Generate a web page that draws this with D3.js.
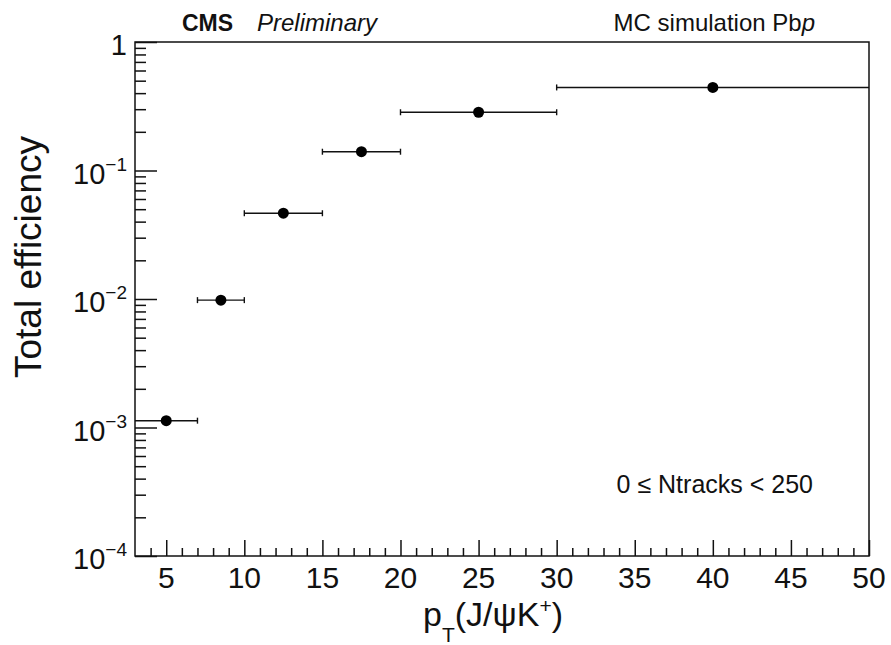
<!DOCTYPE html>
<html>
<head>
<meta charset="utf-8">
<script src="https://cdn.jsdelivr.net/npm/d3@7"></script>
<style>
  body { margin: 0; background: #fff; }
  svg { display: block; font-family: "Liberation Sans", Arial, Helvetica, sans-serif; }
</style>
</head>
<body>
<svg id="chart" width="891" height="645"></svg>
<script>
// bins in pT and the efficiency
const binLow = [3, 7, 10, 15, 20, 30];
const binHigh = [7, 10, 15, 20, 30, 50];
const ptCenter = [5, 8.5, 12.5, 17.5, 25, 40];
const efficiency = [1.13e-3, 9.8e-3, 0.0465, 0.14, 0.284, 0.443];

const xTicks = [5, 10, 15, 20, 25, 30, 35, 40, 45, 50];
const yExponents = [-4, -3, -2, -1, 0];

const svg = d3.select('#chart');
const plotL = 135, plotR = 869, plotT = 42, plotB = 556;
const ink = '#111';

const x = d3.scaleLinear().domain([3, 50]).range([plotL, plotR]);
const y = d3.scaleLog().domain([1e-4, 1]).range([plotB, plotT]);

// frame
svg.append('rect')
  .attr('x', plotL).attr('y', plotT)
  .attr('width', plotR - plotL).attr('height', plotB - plotT)
  .attr('fill', 'none').attr('stroke', ink).attr('stroke-width', 1.5);

// x axis ticks
const xMinor = d3.range(4, 50).filter(v => v % 5 !== 0);
svg.append('g')
  .attr('transform', `translate(0,${plotB})`)
  .call(d3.axisTop(x).tickValues(xMinor).tickSize(8).tickFormat(''))
  .call(g => g.select('.domain').remove());
svg.append('g')
  .attr('transform', `translate(0,${plotB})`)
  .call(d3.axisTop(x).tickValues(xTicks).tickSize(16).tickFormat(''))
  .call(g => g.select('.domain').remove());
svg.selectAll('.tick line').attr('stroke', ink).attr('stroke-width', 1.5);

svg.append('g').selectAll('text')
  .data(xTicks)
  .enter().append('text')
  .attr('x', d => x(d))
  .attr('y', 588)
  .attr('text-anchor', 'middle')
  .attr('font-size', 30)
  .attr('fill', ink)
  .text(d => d);

// y axis ticks
const yMinor = [];
yExponents.slice(0, -1).forEach(e => {
  for (let k = 2; k <= 9; k++) yMinor.push(k * Math.pow(10, e));
});
const yMajor = yExponents.map(e => Math.pow(10, e));
svg.append('g')
  .attr('transform', `translate(${plotL},0)`)
  .call(d3.axisRight(y).tickValues(yMinor).tickSize(11).tickFormat(''))
  .call(g => g.select('.domain').remove())
  .selectAll('line').attr('stroke', ink).attr('stroke-width', 1.5);
svg.append('g')
  .attr('transform', `translate(${plotL},0)`)
  .call(d3.axisRight(y).tickValues(yMajor).tickSize(22).tickFormat(''))
  .call(g => g.select('.domain').remove())
  .selectAll('line').attr('stroke', ink).attr('stroke-width', 1.5);

const yLab = svg.append('g').selectAll('text')
  .data(yExponents)
  .enter().append('text')
  .attr('x', 127)
  .attr('y', d => y(Math.pow(10, d)) + 13)
  .attr('text-anchor', 'end')
  .attr('font-size', 29)
  .attr('fill', ink);
yLab.each(function(e) {
  const t = d3.select(this);
  if (e === 0) { t.text('1'); return; }
  t.append('tspan').text('10');
  t.append('tspan').attr('dy', -13).attr('font-size', 19).text('\u2212' + Math.abs(e));
});

// error bars and markers
const pts = ptCenter.map((c, i) => ({ c, lo: binLow[i], hi: binHigh[i], v: efficiency[i] }));
const marks = svg.append('g');
marks.selectAll('line.err')
  .data(pts).enter().append('line')
  .attr('x1', d => x(d.lo)).attr('x2', d => x(d.hi))
  .attr('y1', d => y(d.v)).attr('y2', d => y(d.v))
  .attr('stroke', ink).attr('stroke-width', 1.4);
marks.selectAll('line.capl')
  .data(pts.filter(d => d.lo > 3)).enter().append('line')
  .attr('x1', d => x(d.lo)).attr('x2', d => x(d.lo))
  .attr('y1', d => y(d.v) - 3).attr('y2', d => y(d.v) + 3)
  .attr('stroke', ink).attr('stroke-width', 1.4);
marks.selectAll('line.capr')
  .data(pts.filter(d => d.hi < 50)).enter().append('line')
  .attr('x1', d => x(d.hi)).attr('x2', d => x(d.hi))
  .attr('y1', d => y(d.v) - 3).attr('y2', d => y(d.v) + 3)
  .attr('stroke', ink).attr('stroke-width', 1.4);
marks.selectAll('circle')
  .data(pts).enter().append('circle')
  .attr('cx', d => x(d.c)).attr('cy', d => y(d.v))
  .attr('r', 5.5).attr('fill', '#000');

// titles
svg.append('text')
  .attr('x', 182).attr('y', 31)
  .attr('font-size', 23).attr('font-weight', 'bold').attr('fill', ink)
  .text('CMS');
svg.append('text')
  .attr('x', 257).attr('y', 31)
  .attr('font-size', 24).attr('font-style', 'italic').attr('fill', ink)
  .text('Preliminary');

const mc = svg.append('text')
  .attr('x', 815).attr('y', 31)
  .attr('text-anchor', 'end')
  .attr('font-size', 24).attr('fill', ink);
mc.append('tspan').text('MC simulation Pb');
mc.append('tspan').attr('font-style', 'italic').text('p');

svg.append('text')
  .attr('x', 813).attr('y', 493)
  .attr('text-anchor', 'end')
  .attr('font-size', 25).attr('fill', ink)
  .text('0 \u2264 Ntracks < 250');

// axis titles
const xt = svg.append('text')
  .attr('x', 423).attr('y', 626)
  .attr('font-size', 34).attr('fill', ink);
xt.append('tspan').text('p');
xt.append('tspan').attr('dy', 16).attr('font-size', 21).text('T');
xt.append('tspan').attr('dy', -16).text('(J/\u03c8K');
xt.append('tspan').attr('dy', -13).attr('font-size', 21).text('+');
xt.append('tspan').attr('dy', 13).text(')');

svg.append('text')
  .attr('transform', 'translate(41,257) rotate(-90)')
  .attr('text-anchor', 'middle')
  .attr('font-size', 37).attr('fill', ink)
  .text('Total efficiency');
</script>
</body>
</html>
